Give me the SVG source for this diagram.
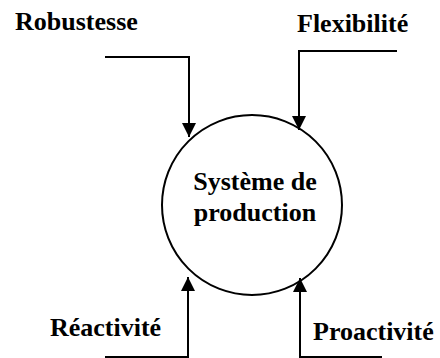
<svg xmlns="http://www.w3.org/2000/svg" width="440" height="358" viewBox="0 0 440 358">
  <style>
    .lbl { font-family: "Liberation Serif", "Times New Roman", serif; font-weight: bold; font-size: 26px; fill: #000; }
    .conn { fill: none; stroke: #000; stroke-width: 2; marker-end: url(#arr); }
    .node { fill: #fff; stroke: #000; stroke-width: 2; }
  </style>
  <defs>
    <marker id="arr" viewBox="0 0 14 14" markerWidth="14" markerHeight="14" refX="14" refY="7" orient="auto" markerUnits="userSpaceOnUse">
      <path d="M0,0 L14,7 L0,14 z" fill="#000"/>
    </marker>
  </defs>
  <rect width="440" height="358" fill="#fff"/>
  <g id="systeme">
    <circle class="node" cx="252" cy="205" r="90"/>
    <text class="lbl" x="255" y="190" text-anchor="middle">Système de</text>
    <text class="lbl" x="255" y="221" text-anchor="middle">production</text>
  </g>
  <g id="robustesse"><text class="lbl" x="15" y="30">Robustesse</text></g>
  <g id="flexibilite"><text class="lbl" x="297" y="32">Flexibilité</text></g>
  <g id="reactivite"><text class="lbl" x="50" y="336">Réactivité</text></g>
  <g id="proactivite"><text class="lbl" x="313" y="340">Proactivité</text></g>
  <g id="connectors">
    <path class="conn" d="M105,57 H189 V137"/>
    <path class="conn" d="M397,51 H299 V130"/>
    <path class="conn" d="M105,357 H188 V277"/>
    <path class="conn" d="M382,357 H300 V278"/>
  </g>
</svg>
